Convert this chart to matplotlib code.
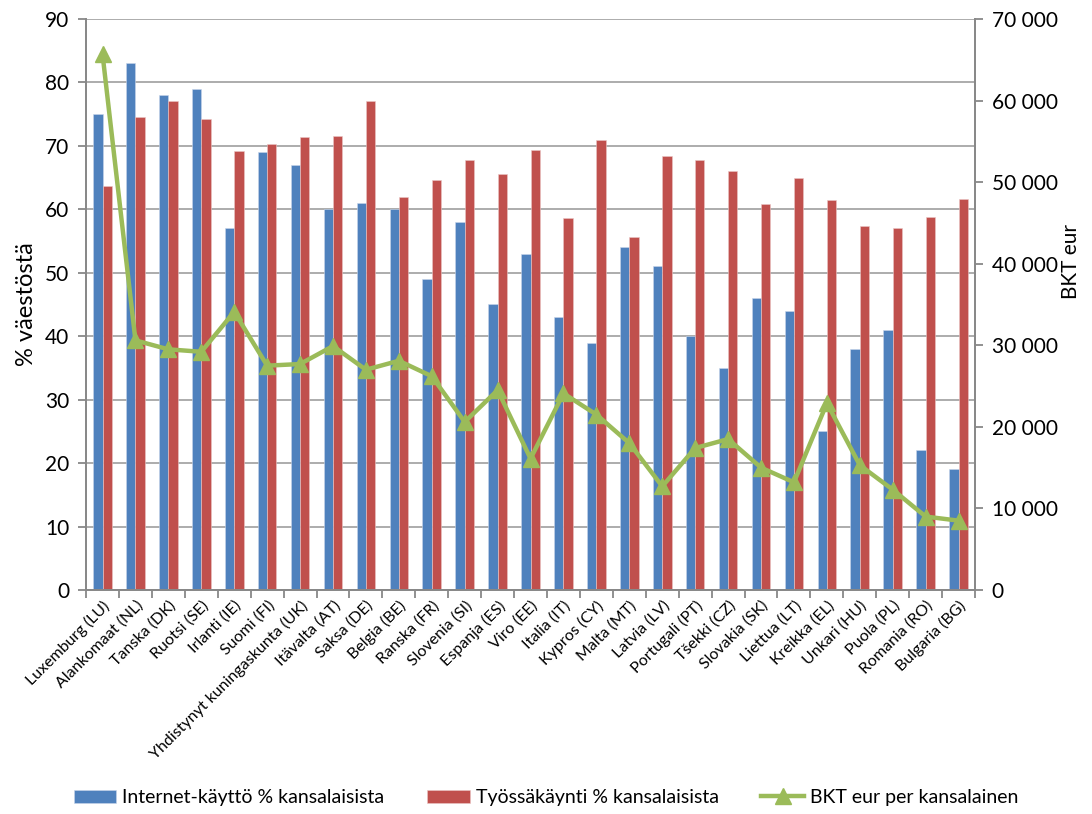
import numpy as np
import matplotlib
matplotlib.use("Agg")
import matplotlib.pyplot as plt
from matplotlib.ticker import FuncFormatter, MultipleLocator

plt.rcParams['font.family'] = ['Lato', 'DejaVu Sans']

maat = ['Luxemburg (LU)', 'Alankomaat (NL)', 'Tanska (DK)', 'Ruotsi (SE)', 'Irlanti (IE)',
        'Suomi (FI)', 'Yhdistynyt kuningaskunta (UK)', 'Itävalta (AT)', 'Saksa (DE)',
        'Belgia (BE)', 'Ranska (FR)', 'Slovenia (SI)', 'Espanja (ES)', 'Viro (EE)',
        'Italia (IT)', 'Kypros (CY)', 'Malta (MT)', 'Latvia (LV)', 'Portugali (PT)',
        'Tšekki (CZ)', 'Slovakia (SK)', 'Liettua (LT)', 'Kreikka (EL)', 'Unkari (HU)',
        'Puola (PL)', 'Romania (RO)', 'Bulgaria (BG)']
internet = [75, 83, 78, 79, 57, 69, 67, 60, 61, 60, 49, 58, 45, 53, 43, 39, 54, 51, 40,
            35, 46, 44, 25, 38, 41, 22, 19]
tyo = [63.7, 74.6, 77.1, 74.2, 69.2, 70.3, 71.4, 71.5, 77.1, 62.0, 64.6, 67.8, 65.6, 69.4,
       58.7, 71.0, 55.7, 68.4, 67.8, 66.1, 60.8, 64.9, 61.5, 57.3, 57.0, 58.8, 61.7]
bkt = [65700, 30600, 29500, 29200, 34100, 27500, 27700, 29900, 27000, 28100, 26200, 20600,
       24500, 16100, 24100, 21500, 18000, 12700, 17400, 18500, 15000, 13200, 22900, 15300,
       12300, 9000, 8500]

blue = '#4F81BD'
red = '#C0504D'
green = '#9BBB59'
grid_c = '#A6A6A6'

fig = plt.figure(figsize=(10.92, 8.14), dpi=100)
ax = fig.add_axes([0.0788, 0.2752, 0.8141, 0.7015])
ax2 = ax.twinx()

x = np.arange(len(maat))
w = 0.283
ax.bar(x - w / 2, internet, w, color=blue, edgecolor='#C9D6EA', linewidth=0.4,
       label='Internet-käyttö % kansalaisista', zorder=2)
ax.bar(x + w / 2, tyo, w, color=red, edgecolor='#EBC7C6', linewidth=0.4,
       label='Työssäkäynti % kansalaisista', zorder=2)
ax2.plot(x, bkt, color=green, linewidth=3.2, marker='^', markersize=12,
         label='BKT eur per kansalainen', zorder=3)

ax.set_xlim(-0.5, len(maat) - 0.5)
ax.set_ylim(0, 90)
ax.yaxis.set_major_locator(MultipleLocator(10))
ax2.set_ylim(0, 70000)
ax2.yaxis.set_major_locator(MultipleLocator(10000))
ax2.yaxis.set_major_formatter(FuncFormatter(lambda v, p: f'{int(v):,}'.replace(',', ' ')))

ax.yaxis.grid(True, color=grid_c, linewidth=1.3, zorder=0)
ax.set_axisbelow(True)

for a in (ax, ax2):
    a.spines['top'].set_visible(False)
    for s in ('left', 'right', 'bottom'):
        a.spines[s].set_color('#888888')
        a.spines[s].set_linewidth(1.3)

ax.set_xticks(np.arange(len(maat) + 1) - 0.5)
ax.set_xticklabels([])
ax.set_xticks(x, minor=True)
ax.set_xticklabels(maat, minor=True, rotation=45, ha='right', rotation_mode='anchor',
                   fontsize=11.5)
ax.tick_params(axis='x', which='major', length=6, color='#888888', width=1.3)
ax.tick_params(axis='x', which='minor', length=0, pad=6)
ax.tick_params(axis='y', length=6, color='#888888', width=1.3, labelsize=15, pad=6)
ax2.tick_params(axis='y', length=6, color='#888888', width=1.3, labelsize=15, pad=6)

ax.set_ylabel('% väestöstä', fontsize=17, labelpad=6)
ax2.set_ylabel('BKT eur', fontsize=15)
ax2.yaxis.set_label_coords(1.097, 0.575)

h1, l1 = ax.get_legend_handles_labels()
h2, l2 = ax2.get_legend_handles_labels()
fig.legend(h1 + h2, l1 + l2, loc='lower center', bbox_to_anchor=(0.5, -0.012), ncol=3,
           frameon=False, fontsize=14, handlelength=2.2, columnspacing=2.2,
           handletextpad=0.3)

fig.savefig('out.png', dpi=100)
